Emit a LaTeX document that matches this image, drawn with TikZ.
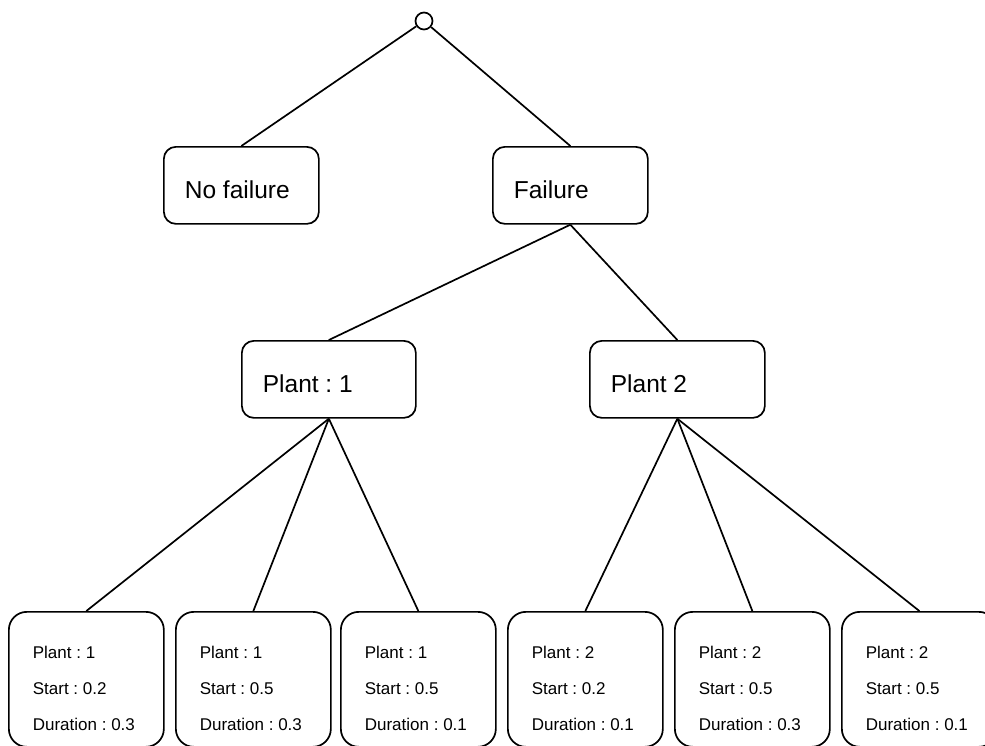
\documentclass[tikz,border=0pt]{standalone}
\usepackage{fontspec}
\setmainfont{Liberation Sans}
\frenchspacing
% three stacked lines of a leaf box, 36pt apart, left aligned in a fixed width
\newcommand\leaftext[3]{\hbox to 107pt{\vtop{\baselineskip=36pt\hbox{#1}\hbox{#2}\hbox{#3}}\hfil}}
\begin{document}
\begin{tikzpicture}[x=1pt,y=-1pt,line width=1.7pt,
  choice/.style={draw,rounded corners=12pt,inner xsep=21pt,inner ysep=0pt,
    text height=52pt,text depth=25pt,anchor=north west,
    font=\fontsize{24.5}{29}\selectfont},
  leaf/.style={draw,rounded corners=18pt,inner xsep=24pt,inner ysep=0pt,
    text height=47pt,text depth=88pt,anchor=north west,
    font=\fontsize{17}{20}\selectfont},
  origin/.style={draw,circle,minimum size=17pt,inner sep=0pt}]
\useasboundingbox (0,0) rectangle (985,745);
\clip (0,0) rectangle (985,745);

% root of the tree
\node[origin] (root) at (424,21) {};

% first level
\node[choice] (nf)   at (163,146) {\hbox to 113pt{No failure\hfil}};
\node[choice] (fail) at (492,146) {\hbox to 113pt{Failure\hfil}};

% second level
\node[choice] (p1) at (241,340) {\hbox to 132pt{Plant : 1\hfil}};
\node[choice] (p2) at (589,340) {\hbox to 133pt{Plant 2\hfil}};

% leaves
\node[leaf] (s1) at (8,611)   {\leaftext{Plant : 1}{Start : 0.2}{Duration : 0.3}};
\node[leaf] (s2) at (175,611) {\leaftext{Plant : 1}{Start : 0.5}{Duration : 0.3}};
\node[leaf] (s3) at (340,611) {\leaftext{Plant : 1}{Start : 0.5}{Duration : 0.1}};
\node[leaf] (s4) at (507,611) {\leaftext{Plant : 2}{Start : 0.2}{Duration : 0.1}};
\node[leaf] (s5) at (674,611) {\leaftext{Plant : 2}{Start : 0.5}{Duration : 0.3}};
\node[leaf] (s6) at (841,611) {\leaftext{Plant : 2}{Start : 0.5}{Duration : 0.1}};

% connectors
\draw (root) -- (nf.north);
\draw (root) -- (fail.north);
\draw (fail.south) -- (p1.north);
\draw (fail.south) -- (p2.north);
\draw (p1.south) -- (s1.north);
\draw (p1.south) -- (s2.north);
\draw (p1.south) -- (s3.north);
\draw (p2.south) -- (s4.north);
\draw (p2.south) -- (s5.north);
\draw (p2.south) -- (s6.north);
\end{tikzpicture}
\end{document}
